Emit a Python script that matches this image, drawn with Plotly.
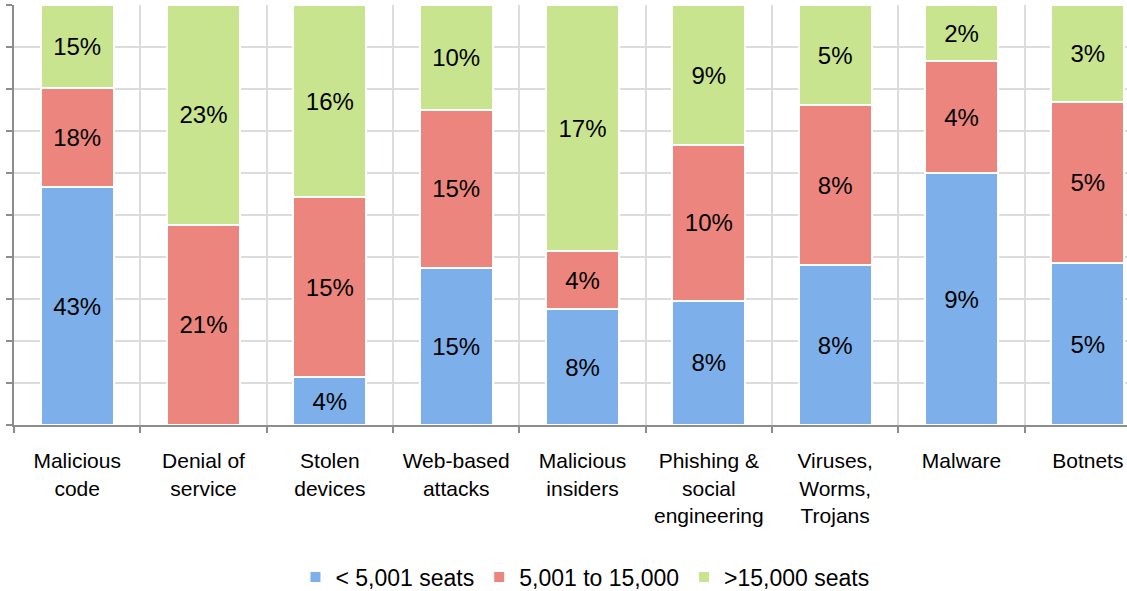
import plotly.graph_objects as go

categories = ["Malicious<br>code", "Denial of<br>service", "Stolen<br>devices", "Web-based<br>attacks",
              "Malicious<br>insiders", "Phishing &<br>social<br>engineering", "Viruses,<br>Worms,<br>Trojans",
              "Malware", "Botnets"]
small = [43, 0, 4, 15, 8, 8, 8, 9, 5]
medium = [18, 21, 15, 15, 4, 10, 8, 4, 5]
large = [15, 23, 16, 10, 17, 9, 5, 2, 3]

series = [
    ("< 5,001 seats", small, "#7db0ea"),
    ("5,001 to 15,000", medium, "#ec857d"),
    (">15,000 seats", large, "#c9e48e"),
]

fig = go.Figure()
for name, vals, col in series:
    fig.add_trace(go.Bar(
        x=categories, y=vals, name=name,
        marker=dict(color=col, line=dict(color="white", width=2)),
        text=[f"{v}%" if v else "" for v in vals],
        textposition="inside", insidetextanchor="middle", textangle=0,
        constraintext="none",
        textfont=dict(family="Liberation Sans, Arial", size=24, color="black"),
        width=0.58,
    ))

fig.update_layout(
    barmode="stack", barnorm="percent",
    width=1127, height=591,
    margin=dict(l=14, r=0, t=5, b=166, autoexpand=False),
    plot_bgcolor="white", paper_bgcolor="white",
    font=dict(family="Liberation Sans, Arial", size=21, color="black"),
    showlegend=True,
    legend=dict(orientation="h", x=0.513, xanchor="center", y=-0.362, yanchor="middle",
                font=dict(size=23), itemwidth=30, traceorder="normal"),
    xaxis=dict(range=[-0.5, 8.31], tickson="boundaries", ticks="outside", ticklen=6,
               tickcolor="#8c8c8c", tickwidth=2, showline=True, linecolor="#8c8c8c", linewidth=2,
               showgrid=True, gridcolor="#dcdcdc", gridwidth=2, ticklabelstandoff=16,
               ticklabeloverflow="allow", automargin=False,
               tickfont=dict(size=21)),
    yaxis=dict(range=[0, 100], dtick=10, showticklabels=False, ticks="outside", ticklen=6,
               tickcolor="#8c8c8c", tickwidth=2, showline=True, linecolor="#8c8c8c", linewidth=2,
               showgrid=True, gridcolor="#dcdcdc", gridwidth=2, zeroline=False, automargin=False),
)

fig.write_html("out.html", config={"displayModeBar": False},
               post_script="document.body.style.margin='0';document.body.style.overflow='hidden';")
